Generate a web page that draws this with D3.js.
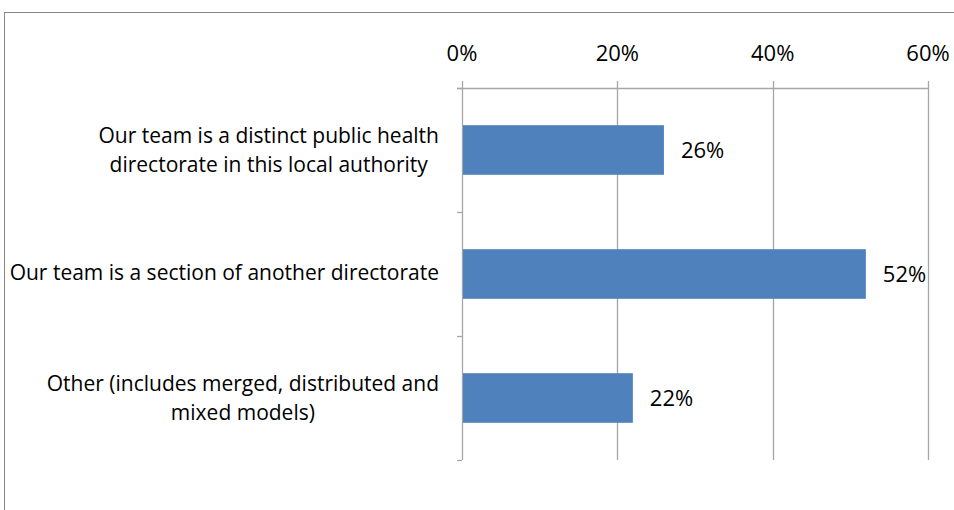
<!DOCTYPE html>
<html><head><meta charset="utf-8">
<script src="https://cdn.jsdelivr.net/npm/d3@7"></script>
<style>body{margin:0;background:#fff}svg{display:block}text{font-family:"Open Sans",Lato,sans-serif}</style>
</head><body><svg id="c" width="954" height="510"></svg>
<script>
const categories = [
  ["Our team is a distinct public health", "directorate in this local authority"],
  ["Our team is a section of another directorate"],
  ["Other (includes merged, distributed and", "mixed models)"]
];
const values = [0.26, 0.52, 0.22];
const ticks = [0, 0.2, 0.4, 0.6];
const tickLabels = ["0%", "20%", "40%", "60%"];

const svg = d3.select("#c");
svg.append("rect").attr("x",4.5).attr("y",12.5).attr("width",960).attr("height",520)
  .attr("fill","none").attr("stroke","#868686").attr("stroke-width",1);

const x = d3.scaleLinear().domain([0,0.6]).range([462,928]);
const y = d3.scaleBand().domain(d3.range(categories.length)).range([88,460]).paddingInner(0.6).paddingOuter(0.3);

const g = svg.append("g");
g.selectAll(".grid").data(ticks).join("line")
  .attr("x1",d=>Math.round(x(d))+0.5).attr("x2",d=>Math.round(x(d))+0.5)
  .attr("y1",81).attr("y2",460).attr("stroke","#a6a6a6").attr("stroke-width",1.3);
g.append("line").attr("x1",457).attr("x2",928.5).attr("y1",88.5).attr("y2",88.5).attr("stroke","#a6a6a6").attr("stroke-width",1.3);
const bounds = [88,212,336,460];
g.selectAll(".ct").data(bounds).join("line")
  .attr("x1",457).attr("x2",462).attr("y1",d=>d+0.5).attr("y2",d=>d+0.5).attr("stroke","#a6a6a6").attr("stroke-width",1.3);

g.selectAll(".tl").data(ticks).join("text")
  .attr("x",d=>x(d)).attr("y",61).attr("text-anchor","middle")
  .attr("font-size",22).attr("fill","#000").text((d,i)=>tickLabels[i]);

g.selectAll(".bar").data(values).join("rect")
  .attr("x",x(0)+1).attr("y",(d,i)=>y(i)).attr("width",d=>x(d)-x(0)-1).attr("height",y.bandwidth())
  .attr("fill","#4f81bd");

g.selectAll(".vl").data(values).join("text")
  .attr("x",d=>x(d)+17).attr("y",(d,i)=>y(i)+y.bandwidth()/2+8)
  .attr("font-size",22).attr("fill","#000").text(d=>Math.round(d*100)+"%");

categories.forEach((lines,i)=>{
  const t = g.append("g");
  const cy = y(i)+y.bandwidth()/2;
  const offs = lines.length===1 ? [6] : [-7, 22];
  const texts = lines.map((s,j)=>t.append("text").attr("font-size",21).attr("fill","#000")
    .attr("text-anchor","middle").attr("y",cy + offs[j]).text(s));
  const w = d3.max(texts, tt=>tt.node().getComputedTextLength());
  texts.forEach(tt=>tt.attr("x",439-w/2));
});
</script></body></html>
